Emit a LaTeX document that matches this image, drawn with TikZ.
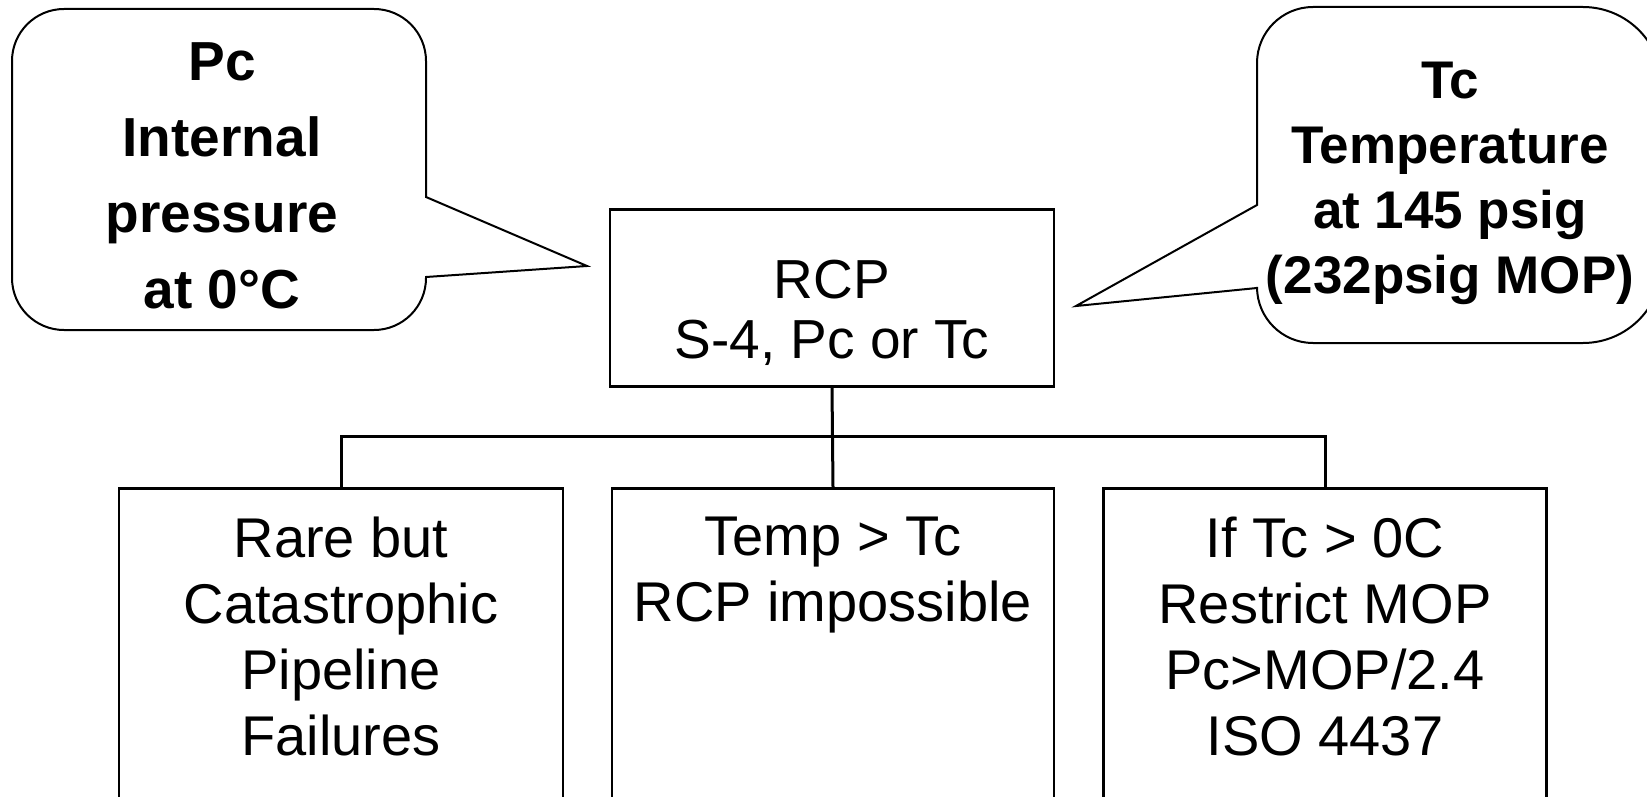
\documentclass[tikz,border=0pt]{standalone}
\usepackage{fontspec}
\setmainfont{Liberation Sans}
\usetikzlibrary{positioning}

\tikzset{
  box/.style={draw, line width=2.5pt, inner sep=0pt},
  boxtxt/.style={align=center, inner sep=0pt, font=\fontsize{56}{66}\selectfont},
  calltxt/.style={align=center, inner sep=0pt, anchor=north},
  bubble/.style={line width=2pt},
  link/.style={line width=3pt},
}

\begin{document}
\begin{tikzpicture}[x=1pt, y=-1pt]
    \useasboundingbox (0,0) rectangle (1647,797);
    \clip (0,0) rectangle (1647,797);
    %the top box
    \node (rcp) [box, minimum width=444pt, minimum height=177pt] at (832,298) {};
    \node (rcptxt) [boxtxt, font=\fontsize{55}{60}\selectfont, below=52pt of rcp.north] {RCP\\S-4, Pc or Tc};
    %the three boxes below, cut off by the page
    \node (fail) [box, minimum width=444pt, minimum height=340pt, anchor=north] at (341,487) {};
    \node (temp) [box, minimum width=442pt, minimum height=340pt, anchor=north] at (833,487) {};
    \node (mop) [box, minimum width=443pt, minimum height=340pt, anchor=north] at (1325,487) {};
    \node (failtxt) [boxtxt, below=30pt of fail.north] {Rare but\\Catastrophic\\Pipeline\\Failures};
    \node (temptxt) [boxtxt, below=30pt of temp.north] {Temp > Tc\\RCP impossible};
    \node (moptxt) [boxtxt, below=30pt of mop.north] {If Tc > 0C\\Restrict MOP\\Pc>MOP/2.4\\ISO 4437};
    %the tree lines
    \coordinate (bus) at (833,436);
    \draw[link] (rcp.south) -- (temp.north);
    \draw[link] (fail.north) |- (bus) -| (mop.north);
    %the callouts
    \coordinate (ltip) at (587,266);
    \coordinate (rtip) at (1076,306);
    \draw[bubble] (426,277) [rounded corners=52pt] -- (426,330) -- (12,330) -- (12,9) -- (426,9) [sharp corners] -- (426,197) -- (ltip) -- cycle;
    \draw[bubble] (1257,205) [rounded corners=56pt] -- (1257,7) [rounded corners=79pt] -- (1662,7) -- (1662,343) [rounded corners=56pt] -- (1257,343) [sharp corners] -- (1257,288) -- (rtip) -- cycle;
    \node (pctxt) [calltxt, font=\fontsize{55}{76}\selectfont\bfseries] at (222,42) {Pc\\Internal\\pressure\\at 0°C};
    \node (tctxt) [calltxt, font=\fontsize{53}{65}\selectfont\bfseries] at (1450,62) {Tc\\Temperature\\at 145 psig\\(232psig MOP)};
\end{tikzpicture}
\end{document}
